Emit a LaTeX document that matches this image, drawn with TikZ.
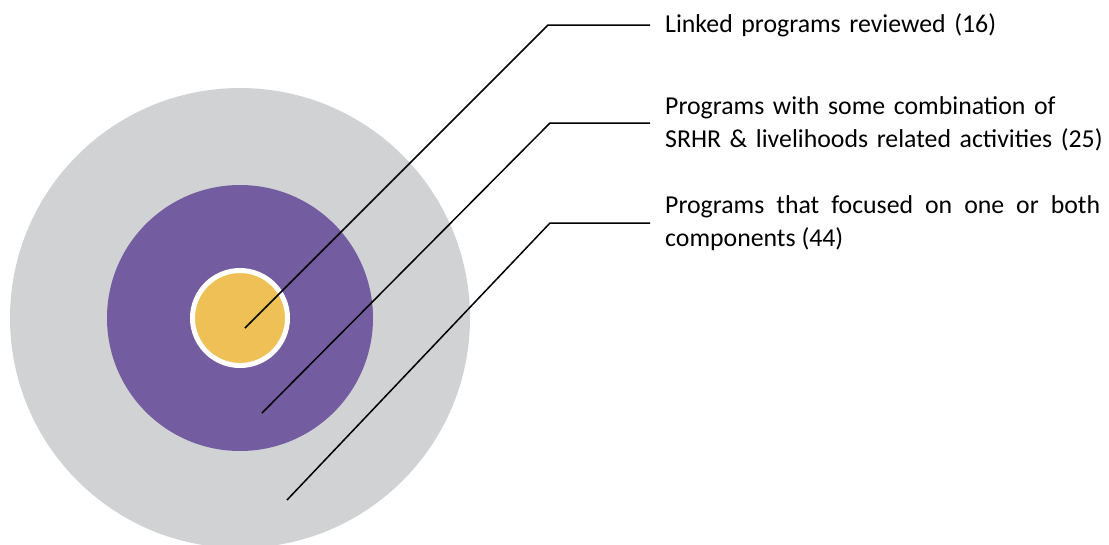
\documentclass[tikz,border=0pt]{standalone}
\usepackage{fontspec}
\setmainfont{Carlito}
\definecolor{outergrey}{HTML}{D1D2D4}
\definecolor{midpurple}{HTML}{745CA0}
\definecolor{coreyellow}{HTML}{EFC056}
\begin{document}
\begin{tikzpicture}[x=1pt,y=-1pt,
  leader/.style={draw=black,line width=1.5pt},
  lbl/.style={anchor=west,inner sep=0pt,font=\fontsize{25.8}{33}\selectfont,text width=445pt},
  disc/.style={circle,inner sep=0pt}]
\useasboundingbox (0,0) rectangle (1109,544);
\node[disc,fill=outergrey,minimum size=460pt] (outer) at (240,318) {};
\node[disc,fill=midpurple,minimum size=266pt] (mid) at (240,318) {};
\node[disc,fill=coreyellow,draw=white,line width=5pt,minimum size=95pt] (core) at (240,318) {};
\coordinate (p1) at (245,328);
\coordinate (k1) at (548,25);
\coordinate (e1) at (650,25);
\coordinate (p2) at (262,413);
\coordinate (k2) at (550,123);
\coordinate (e2) at (650,123);
\coordinate (p3) at (287,500);
\coordinate (k3) at (550,223);
\coordinate (e3) at (650,223);
\draw[leader] (p1) -- (k1) -- (e1);
\draw[leader] (p2) -- (k2) -- (e2);
\draw[leader] (p3) -- (k3) -- (e3);
\node[lbl,align=left] (t1) at (665,25) {Linked programs reviewed (16)};
\node[lbl,align=left] (t2) at (665,123.5) {Programs with some combination of\\SRHR \& livelihoods related activities (25)};
\node[lbl,align=justify,text width=435pt] (t3) at (665,223.5) {\hyphenpenalty=10000 Programs that focused on one or both components (44)};
\end{tikzpicture}
\end{document}
